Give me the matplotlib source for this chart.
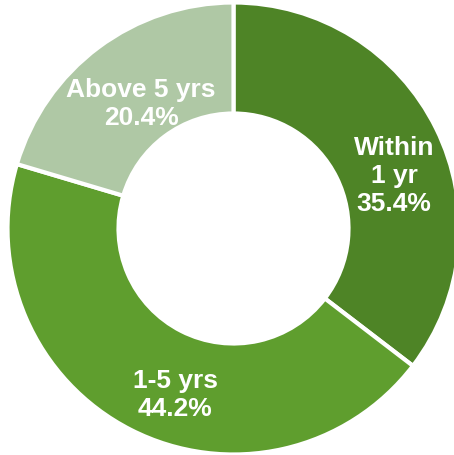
import matplotlib
matplotlib.use("Agg")
import matplotlib.pyplot as plt

categories = ["Within 1 yr", "1-5 yrs", "Above 5 yrs"]
values = [35.4, 44.2, 20.4]
label_texts = ["Within\n1 yr\n35.4%", "1-5 yrs\n44.2%", "Above 5 yrs\n20.4%"]
colors = ["#4E8426", "#5F9E2E", "#AFC8A5"]

W, H = 454, 456
fig = plt.figure(figsize=(W / 100, H / 100), dpi=100)
ax = fig.add_axes([0, 0, 1, 1])

cx, cy, R, r_in = 233.5, H - 229.5, 226, 115
ax.pie(values, colors=colors, startangle=90, counterclock=False,
       radius=R, center=(cx, cy), frame=True,
       wedgeprops=dict(width=R - r_in, edgecolor="white", linewidth=3))
ax.set_xlim(0, W)
ax.set_ylim(0, H)
ax.set_aspect("equal")
ax.axis("off")

label_pos = [(394, H - 176), (175, H - 395), (141, H - 104)]
for (x, y), t in zip(label_pos, label_texts):
    ax.text(x, y, t, ha="center", va="center", color="white",
            fontsize=19, fontweight="bold", family=["Liberation Sans", "DejaVu Sans"],
            linespacing=1.2)

fig.savefig("out.png", dpi=100)
